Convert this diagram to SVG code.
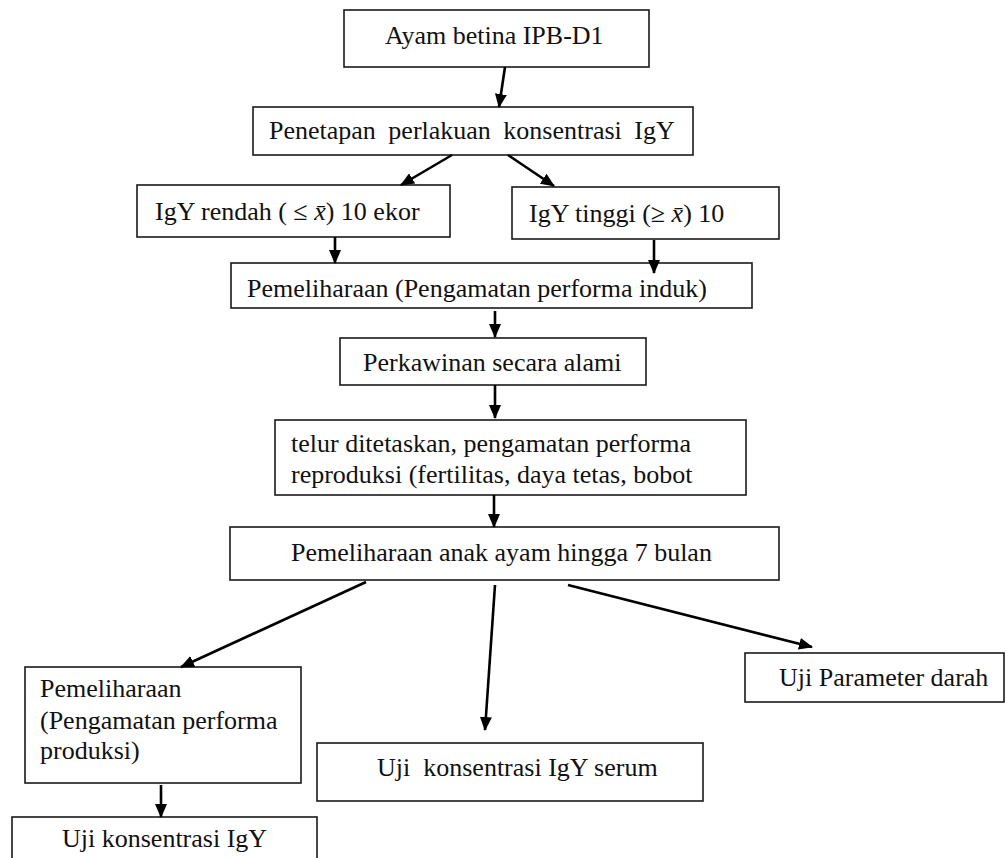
<svg xmlns="http://www.w3.org/2000/svg" width="1007" height="858" viewBox="0 0 1007 858">
<style>
.box{fill:#fff;stroke:#1a1a1a;stroke-width:1.6}
.t{font-family:"Liberation Serif","Times New Roman",serif;font-size:26px;fill:#111}
.c{stroke:#000;stroke-width:2.6;fill:none;marker-end:url(#ah)}
</style>
<defs>
<marker id="ah" markerUnits="userSpaceOnUse" markerWidth="14" markerHeight="12" refX="13" refY="6" orient="auto">
<path d="M0,0 L14,6 L0,12 z" fill="#000"/>
</marker>
</defs>
<rect width="1007" height="858" fill="#fff"/>
<g id="n1"><rect class="box" x="344" y="10" width="305" height="57"/><text class="t" x="385" y="44">Ayam betina IPB-D1</text></g>
<g id="n2"><rect class="box" x="253" y="107" width="440" height="48"/><text class="t" x="269" y="139" word-spacing="6">Penetapan perlakuan konsentrasi IgY</text></g>
<g id="n3"><rect class="box" x="137" y="185" width="313" height="52"/><text class="t" x="155" y="220">IgY rendah ( ≤ <tspan font-style="italic">x̄</tspan>) 10 ekor</text></g>
<g id="n4"><rect class="box" x="512" y="187" width="267" height="52"/><text class="t" x="529" y="222">IgY tinggi (≥ <tspan font-style="italic">x̄</tspan>) 10</text></g>
<g id="n5"><rect class="box" x="231" y="263" width="521" height="45"/><text class="t" x="247" y="297">Pemeliharaan (Pengamatan performa induk)</text></g>
<g id="n6"><rect class="box" x="340" y="338" width="306" height="47"/><text class="t" x="363" y="371">Perkawinan secara alami</text></g>
<g id="n7"><rect class="box" x="275" y="420" width="471" height="75"/><text class="t" x="291" y="452">telur ditetaskan, pengamatan performa</text><text class="t" x="291" y="483">reproduksi (fertilitas, daya tetas, bobot</text></g>
<g id="n8"><rect class="box" x="230" y="527" width="549" height="53"/><text class="t" x="291" y="561">Pemeliharaan anak ayam hingga 7 bulan</text></g>
<g id="n9"><rect class="box" x="25" y="667" width="276" height="116"/><text class="t" x="40" y="697">Pemeliharaan</text><text class="t" x="40" y="729">(Pengamatan performa</text><text class="t" x="40" y="759">produksi)</text></g>
<g id="n10"><rect class="box" x="745" y="653" width="259" height="49"/><text class="t" x="779" y="686">Uji Parameter darah</text></g>
<g id="n11"><rect class="box" x="317" y="743" width="386" height="58"/><text class="t" x="377" y="776">Uji&#160; konsentrasi IgY serum</text></g>
<g id="n12"><rect class="box" x="12" y="817" width="305" height="50"/><text class="t" x="62" y="847">Uji konsentrasi IgY</text></g>
<g id="connectors">
<line class="c" x1="505" y1="67" x2="499" y2="107"/>
<line class="c" x1="452" y1="155" x2="401" y2="185"/>
<line class="c" x1="508" y1="155" x2="554" y2="186"/>
<line class="c" x1="335" y1="237" x2="335" y2="263"/>
<line class="c" x1="654" y1="240" x2="654" y2="273"/>
<line class="c" x1="495" y1="311" x2="495" y2="337"/>
<line class="c" x1="495" y1="385" x2="495" y2="418"/>
<line class="c" x1="494" y1="495" x2="494" y2="527"/>
<line class="c" x1="366" y1="582" x2="181" y2="667"/>
<line class="c" x1="495" y1="585" x2="485" y2="730"/>
<line class="c" x1="568" y1="585" x2="812" y2="647"/>
<line class="c" x1="161" y1="785" x2="161" y2="817"/>
</g>
</svg>
